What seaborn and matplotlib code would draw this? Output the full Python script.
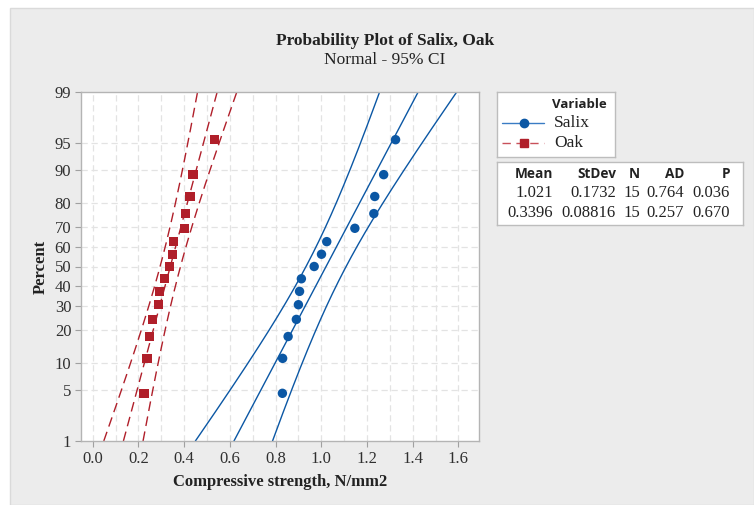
import statistics
import numpy as np
import pandas as pd
import matplotlib
matplotlib.use("Agg")
import matplotlib.pyplot as plt
from matplotlib.patches import Rectangle
import seaborn as sns

# ---- data -------------------------------------------------------------
salix = [0.830, 0.831, 0.855, 0.891, 0.900, 0.905, 0.913, 0.969,
         1.001, 1.024, 1.147, 1.230, 1.234, 1.273, 1.325]
oak = [0.2245, 0.2376, 0.248, 0.261, 0.287, 0.293, 0.314, 0.335,
       0.349, 0.353, 0.401, 0.407, 0.426, 0.439, 0.534]

series_names = ["Salix", "Oak"]
means = [1.021, 0.3396]
stdevs = [0.1732, 0.08816]
counts = [15, 15]
ad_values = ["0.764", "0.257"]
p_values = ["0.036", "0.670"]
mean_labels = ["1.021", "0.3396"]
stdev_labels = ["0.1732", "0.08816"]

pct_ticks = [1, 5, 10, 20, 30, 40, 50, 60, 70, 80, 90, 95, 99]
x_ticks = [0.0, 0.2, 0.4, 0.6, 0.8, 1.0, 1.2, 1.4, 1.6]

# ---- helpers ------------------------------------------------------------
ND = statistics.NormalDist()


def z_of(p):
    return ND.inv_cdf(p)


def median_rank(n):
    i = np.arange(1, n + 1)
    return (i - 0.3) / (n + 0.4)


BLUE = "#0b57a4"
RED = "#b01f2a"
SERIF = ["Liberation Serif", "DejaVu Serif"]
SANS = ["Open Sans", "DejaVu Sans"]

sns.set_theme(style="white")
plt.rcParams["font.family"] = SERIF

W, H = 754, 505
fig = plt.figure(figsize=(W / 100, H / 100), dpi=100, facecolor="white")
fig.patches.append(Rectangle((10 / W, 0), 1 - 10 / W, 1 - 8 / H,
                             transform=fig.transFigure, facecolor="#ececec",
                             edgecolor="#dadada", lw=1.0, zorder=-10))


def px_axes(x0, y0, x1, y1):
    return fig.add_axes([x0 / W, 1 - y1 / H, (x1 - x0) / W, (y1 - y0) / H])


ax = px_axes(81, 92, 479, 441)
ax.set_facecolor("white")

zlo, zhi = z_of(0.01), z_of(0.99)
ax.set_xlim(-0.051, 1.69)
ax.set_ylim(zlo, zhi)

# grid
for gx in np.arange(0.0, 1.65, 0.1):
    ax.axvline(gx, color="#e3e3e3", lw=0.9, ls=(0, (5, 3)), zorder=0)
for p in pct_ticks[1:-1]:
    ax.axhline(z_of(p / 100), color="#e3e3e3", lw=0.9, ls=(0, (5, 3)), zorder=0)

# fitted lines and 95% confidence bands
zz = np.linspace(zlo, zhi, 200)
rows = []
for name, m, s, n in zip(series_names, means, stdevs, counts):
    fit = m + zz * s
    half = 1.959964 * s * np.sqrt((1 + zz ** 2 / 2) / n)
    for part, xs in (("fit", fit), ("lo", fit - half), ("hi", fit + half)):
        rows.append(pd.DataFrame({"x": xs, "z": zz, "series": name, "part": part}))
lines = pd.concat(rows, ignore_index=True)

for name, color, dash in (("Salix", BLUE, None), ("Oak", RED, (0, (7, 4)))):
    for part in ("fit", "lo", "hi"):
        d = lines[(lines.series == name) & (lines.part == part)]
        sns.lineplot(data=d, x="x", y="z", sort=False, estimator=None,
                     color=color, lw=1.0, ax=ax, legend=False,
                     linestyle=dash if dash else "-")

# data points
pts = pd.concat([
    pd.DataFrame({"x": salix, "z": [z_of(p) for p in median_rank(len(salix))],
                  "series": "Salix"}),
    pd.DataFrame({"x": oak, "z": [z_of(p) for p in median_rank(len(oak))],
                  "series": "Oak"}),
], ignore_index=True)
sns.scatterplot(data=pts, x="x", y="z", hue="series", style="series",
                markers={"Salix": "o", "Oak": "s"},
                palette={"Salix": BLUE, "Oak": RED}, s=46, linewidth=0,
                ax=ax, legend=False, zorder=5)

# axes decoration
ax.set_xticks(x_ticks)
ax.set_xticklabels([f"{v:.1f}" for v in x_ticks])
ax.set_yticks([z_of(p / 100) for p in pct_ticks])
ax.set_yticklabels([str(p) for p in pct_ticks])
ax.tick_params(axis="both", which="major", direction="out", length=4,
               width=0.8, color="#a0a0a0", labelsize=12, labelcolor="#303030",
               pad=3, bottom=True, left=True)
for sp in ax.spines.values():
    sp.set_color("#b4b4b4")
    sp.set_linewidth(1.0)
ax.set_xlabel("Compressive strength, N/mm2", fontsize=12, fontweight="bold",
              color="#222222", labelpad=5)
ax.set_ylabel("Percent", fontsize=12, fontweight="bold", color="#222222",
              labelpad=4)

# titles
fig.text(385 / W, 1 - 41 / H, "Probability Plot of Salix, Oak", ha="center",
         va="center", fontsize=12.5, fontweight="bold", color="#222222")
fig.text(385 / W, 1 - 60 / H, "Normal - 95% CI", ha="center", va="center",
         fontsize=12.5, color="#222222")


def box_axes(x0, y0, x1, y1):
    b = px_axes(x0, y0, x1, y1)
    b.set_xlim(0, x1 - x0)
    b.set_ylim(y1 - y0, 0)
    b.set_xticks([])
    b.set_yticks([])
    b.set_facecolor("white")
    for sp in b.spines.values():
        sp.set_color("#bdbdbd")
        sp.set_linewidth(1.0)
    return b


# legend box
lg = box_axes(497, 92, 615, 157)
lg.text(82, 12, "Variable", ha="center", va="center", fontsize=9.5,
        fontweight="bold", family=SANS, color="#222222")
lg.plot([5, 47], [31, 31], color="#3a7cc4", lw=1.0)
lg.plot([27], [31], marker="o", ms=6, color=BLUE, mec=BLUE)
lg.text(57, 31, "Salix", ha="left", va="center", fontsize=12.5, color="#222222")
lg.plot([5, 47], [51, 51], color="#c8505a", lw=1.0, ls=(0, (6, 4)))
lg.plot([27], [51], marker="s", ms=6, color=RED, mec=RED)
lg.text(57, 51, "Oak", ha="left", va="center", fontsize=12.5, color="#222222")

# statistics table
tb = box_axes(497, 162, 743, 225)
col_right = [56, 119, 143, 187, 233]
headers = ["Mean", "StDev", "N", "AD", "P"]
for xr, h in zip(col_right, headers):
    tb.text(xr, 12, h, ha="right", va="center", fontsize=9.8,
            fontweight="bold", family=SANS, color="#222222")
for r, (mlab, slab, n, ad, pv) in enumerate(zip(mean_labels, stdev_labels,
                                                 counts, ad_values, p_values)):
    yy = 31 + r * 20
    for xr, val in zip(col_right, [mlab, slab, str(n), ad, pv]):
        tb.text(xr, yy, val, ha="right", va="center", fontsize=12,
                color="#222222")

fig.savefig("out.png", dpi=100, facecolor=fig.get_facecolor())
